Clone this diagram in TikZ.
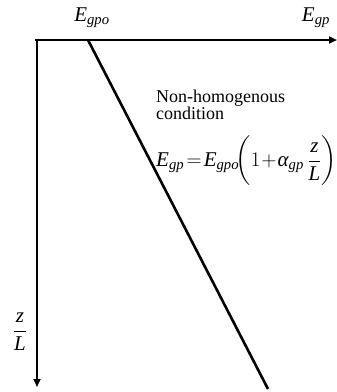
\documentclass[tikz,border=0pt]{standalone}
\usepackage{amsmath}
\usepackage{fontspec}
\setmainfont{Liberation Serif}
\usetikzlibrary{arrows.meta}
\newcommand\iv[1]{\text{\itshape #1}}
\begin{document}
\begin{tikzpicture}[x=1pt,y=-1pt,
  axis/.style={line width=2.6pt,-{Triangle[length=8pt,width=7pt]}},
  lbl/.style={inner sep=0pt,font=\fontsize{18}{20}\selectfont},
  mlbl/.style={inner sep=0pt,font=\fontsize{21}{24}\selectfont}]
\useasboundingbox (0,0) rectangle (337,392);
\coordinate (O) at (36,40);
\coordinate (X) at (337,40);
\coordinate (Y) at (37,387);
\coordinate (A) at (88,40);
\coordinate (B) at (268,389);
\draw[axis] (35,40) -- (X);
\draw[axis] (37,38.7) -- (Y);
\draw[line width=2.6pt] (A) -- (B);
\node[mlbl] (egpo) at (92,18) {$\iv{E}_{\iv{gpo}}$};
\node[mlbl] (egp) at (316,18) {$\iv{E}_{\iv{gp}}$};
\node[lbl,anchor=west,align=left] (txt) at (156,105) {Non-homogenous\\[-3pt]condition};
\node[mlbl,anchor=west] (eq) at (156,161) {\medmuskip=1mu\thickmuskip=2mu$\iv{E}_{\iv{gp}}=\iv{E}_{\iv{gpo}}\!\biggl(1+\iv{α}_{\iv{gp}}\,\dfrac{\iv{z}}{\iv{L}}\biggr)$};
\node[mlbl] (zl) at (20,332) {$\dfrac{\iv{z}}{\iv{L}}$};
\end{tikzpicture}
\end{document}
